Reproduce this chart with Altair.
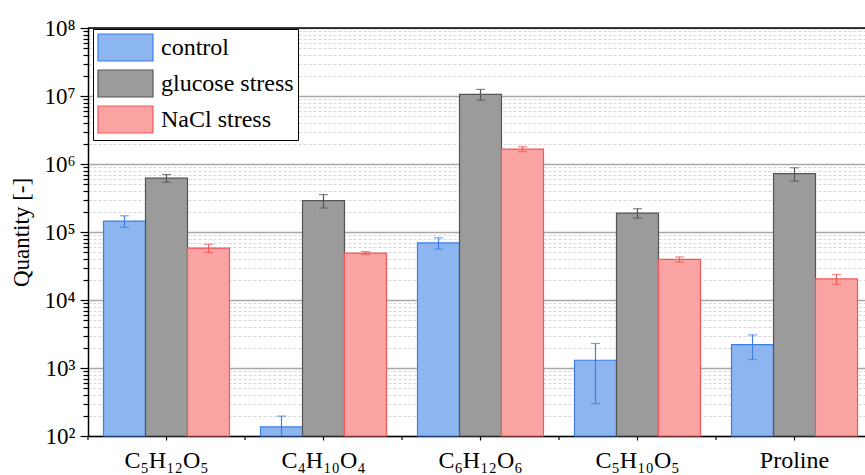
import altair as alt
import pandas as pd

# Compounds on the x axis and the three growth conditions
compounds = ["C₅H₁₂O₅", "C₄H₁₀O₄", "C₆H₁₂O₆", "C₅H₁₀O₅", "Proline"]
series = ["control", "glucose stress", "NaCl stress"]

# Mean quantity and standard deviation per compound
control = [1.45e5, 1.36e2, 6.9e4, 1.3e3, 2.2e3]
control_err = [2.8e4, 6.0e1, 1.3e4, 1.0e3, 8.7e2]
glucose = [6.2e5, 2.9e5, 1.06e7, 1.9e5, 7.2e5]
glucose_err = [8.0e4, 6.5e4, 1.9e6, 3.0e4, 1.6e5]
nacl = [5.8e4, 4.9e4, 1.66e6, 3.96e4, 2.04e4]
nacl_err = [8.0e3, 2.5e3, 1.4e5, 3.4e3, 3.3e3]

fill_colors = ["#8db5ef", "#9b9b9b", "#f9a3a3"]
stroke_colors = ["#3d7fe3", "#555555", "#f05a5a"]

rows = []
for s, vals, errs, ec in zip(series, [control, glucose, nacl],
                             [control_err, glucose_err, nacl_err], stroke_colors):
    for c, v, e in zip(compounds, vals, errs):
        rows.append({"compound": c, "series": s, "value": v,
                     "lo": v - e, "hi": v + e, "ecolor": ec})
df = pd.DataFrame(rows)

# log axis ticks: every 1..9 x 10^k
y_ticks = [m * 10 ** k for k in range(2, 8) for m in range(1, 10)] + [10 ** 8]
is_decade = "abs(log(datum.value)/LN10 - round(log(datum.value)/LN10)) < 0.001"
sup = "['⁰','¹','²','³','⁴','⁵','⁶','⁷','⁸','⁹']"
label_expr = f"({is_decade}) ? '10' + {sup}[round(log(datum.value)/LN10)] : ''"

FONT = "Liberation Serif"
W, H = 777, 408

x_enc = alt.X(
    "compound:N", sort=compounds,
    scale=alt.Scale(paddingInner=0, paddingOuter=0, range=[0, 785]),
    axis=alt.Axis(title=None, labelAngle=0, labelFont=FONT, labelFontSize=24,
                  labelColor="black", labelPadding=8, tickSize=4, tickColor="black",
                  tickWidth=1.2, bandPosition=0.5, domainColor="black",
                  domainWidth=1.5, grid=False),
)
xoff = alt.XOffset("series:N", sort=series,
                   scale=alt.Scale(paddingInner=0, paddingOuter=0.369))
y_scale = alt.Scale(type="log", domain=[100, 1e8])

# wide rectangular swatches: a 27px nominal symbol drawn 55px wide
legend = alt.Legend(
    title=None, orient="none", legendX=5, legendY=1,
    symbolType="M-2.037,-1H2.037V1H-2.037Z", symbolSize=729, symbolStrokeWidth=1.2,
    symbolOffset=14, symbolOpacity=1, labelFont=FONT, labelFontSize=24,
    labelColor="black", labelOffset=21, labelLimit=300, rowPadding=3, padding=4,
    strokeColor="black", fillColor="white", cornerRadius=0,
)

bars = alt.Chart(df).mark_bar(strokeWidth=1.2, opacity=1).encode(
    x=x_enc,
    xOffset=xoff,
    y=alt.Y(
        "value:Q", scale=y_scale, title="Quantity [-]",
        axis=alt.Axis(
            values=y_ticks, labelExpr=label_expr, labelFont=FONT,
            labelFontSize=23, labelColor="black", labelPadding=5,
            tickColor="black", tickWidth=1.2,
            tickSize={"condition": {"test": is_decade, "value": 8}, "value": 5},
            domainColor="black", domainWidth=1.5,
            grid=True,
            gridColor={"condition": {"test": is_decade, "value": "#a8a8a8"},
                       "value": "#d6d6d6"},
            gridDash={"condition": {"test": is_decade, "value": [1, 0]},
                      "value": [3, 2]},
            gridWidth={"condition": {"test": is_decade, "value": 1.3},
                       "value": 1.2},
            titleFont=FONT, titleFontSize=23, titleFontWeight="normal",
            titleColor="black", titlePadding=10,
        ),
    ),
    y2=alt.datum(100),
    fill=alt.Fill("series:N", sort=series,
                  scale=alt.Scale(domain=series, range=fill_colors), legend=legend),
    stroke=alt.Stroke("series:N", sort=series,
                      scale=alt.Scale(domain=series, range=stroke_colors), legend=legend),
)

err_rule = alt.Chart(df).mark_rule(strokeWidth=1.2, clip=True).encode(
    x=alt.X("compound:N", sort=compounds),
    xOffset=xoff,
    y=alt.Y("lo:Q", scale=y_scale),
    y2="hi:Q",
    stroke=alt.Stroke("ecolor:N", scale=None),
)
err_hi = alt.Chart(df).mark_tick(size=9, thickness=1.2, clip=True).encode(
    x=alt.X("compound:N", sort=compounds),
    xOffset=xoff,
    y=alt.Y("hi:Q", scale=y_scale),
    color=alt.Color("ecolor:N", scale=None),
)
err_lo = alt.Chart(df).mark_tick(size=9, thickness=1.2, clip=True).encode(
    x=alt.X("compound:N", sort=compounds),
    xOffset=xoff,
    y=alt.Y("lo:Q", scale=y_scale),
    color=alt.Color("ecolor:N", scale=None),
)

# small ticks at the category boundaries
bound_ticks = alt.Chart(pd.DataFrame({"compound": compounds})).mark_rule(
    color="black", strokeWidth=1.2
).encode(
    x=alt.X("compound:N", sort=compounds, bandPosition=0),
    y=alt.value(H), y2=alt.value(H + 4),
)

# top frame line
top_frame = alt.Chart(pd.DataFrame({"a": [0]})).mark_rule(
    color="black", strokeWidth=1.5
).encode(x=alt.value(0), x2=alt.value(W), y=alt.value(0))

chart = alt.layer(bars, err_rule, err_hi, err_lo, bound_ticks, top_frame).properties(
    width=W, height=H,
    autosize=alt.AutoSizeParams(type="none"),
    padding={"left": 88, "top": 28, "right": 0, "bottom": 39},
).configure(
    background="white", font=FONT
).configure_view(stroke=None).configure_legend(
    labelFont=FONT
).configure_axis(labelFont=FONT, titleFont=FONT)

chart.save("out.html", embed_options={"renderer": "svg", "actions": False})
